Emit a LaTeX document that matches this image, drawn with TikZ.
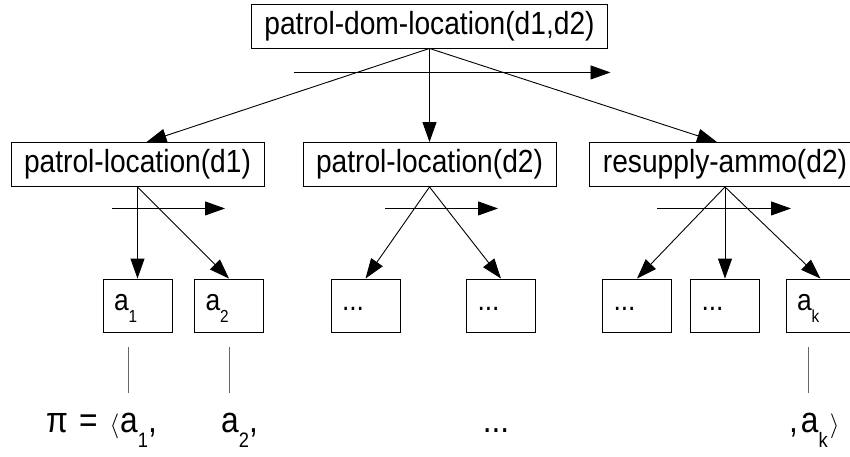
\documentclass[tikz,border=0pt]{standalone}
\usepackage{fontspec}
\setmainfont{Liberation Sans}[FakeStretch=0.88]
\usepackage{tikz}
\usetikzlibrary{calc}
\usetikzlibrary{arrows.meta}
\newcommand{\lowsub}[1]{\raisebox{-.42em}{\scalebox{.58}{#1}}}
\newcommand{\taskfont}{\fontsize{32pt}{36pt}\selectfont}
\newcommand{\leaffont}{\fontsize{30pt}{34pt}\selectfont}
\newcommand{\planfont}{\fontsize{36pt}{40pt}\selectfont}
\tikzset{
    task/.style={draw, rectangle, line width=0.9pt, font=\taskfont, minimum height=44pt, inner xsep=13pt},
    leaf/.style={draw, rectangle, line width=0.9pt, font=\leaffont, minimum height=53pt, text width=47pt,
        text height=18pt, text depth=9pt, inner xsep=11pt, align=left},
    decomp/.style={-{Triangle[length=20pt, width=14pt]}, line width=0.9pt},
    order/.style={decomp},
    trace/.style={line width=0.7pt, black!60},
    plan/.style={font=\planfont, anchor=base west, inner sep=0pt}
}

\begin{document}
\begin{tikzpicture}[x=1pt, y=-1pt]
    \useasboundingbox (0,0) rectangle (850,456);
    \clip (0,0) rectangle (850,456);

    % methods
    \node[task] (dom) at (429.5,26) {patrol-dom-location(d1,d2)};
    \node[task] (locA) at (137.5,164.5) {patrol-location(d1)};
    \node[task] (locB) at (429.5,164.5) {patrol-location(d2)};
    \node[task] (ammo) at (725,164.5) {resupply-ammo(d2)};

    % primitive actions
    \node[leaf] (actA1) at (137.5,305.5) {a\lowsub{1}};
    \node[leaf] (actA2) at (229,305.5) {a\lowsub{2}};
    \node[leaf] (actB1) at (365.5,305.5) {...};
    \node[leaf] (actB2) at (501,305.5) {...};
    \node[leaf] (actC1) at (637,305.5) {...};
    \node[leaf] (actC2) at (725,305.5) {...};
    \node[leaf] (actCk) at (820.5,305.5) {a\lowsub{k}};

    \draw[decomp] (dom.south) -- ([xshift=9pt]locA.north);
    \draw[decomp] (dom.south) -- (locB.north);
    \draw[decomp] (dom.south) -- ([xshift=-8pt]ammo.north);
    \draw[order] ($(dom.south)+(-136,24)$) -- ++(317,0);

    \draw[decomp] (locA.south) -- (actA1.north);
    \draw[decomp] (locA.south) -- (actA2.north);
    \draw[order] ($(locA.south)+(-25.5,21.5)$) -- ++(113,0);

    \draw[decomp] (locB.south) -- (actB1.north);
    \draw[decomp] (locB.south) -- (actB2.north);
    \draw[order] ($(locB.south)+(-44.5,21.5)$) -- ++(113,0);

    \draw[decomp] (ammo.south) -- (actC1.north);
    \draw[decomp] (ammo.south) -- (actC2.north);
    \draw[decomp] (ammo.south) -- (actCk.north);
    \draw[order] ($(ammo.south)+(-68,21.5)$) -- ++(134,0);

    % resulting plan
    \node[plan] (planA1) at (46,432) {π\hspace{11pt}=\hspace{12pt}\ensuremath{\langle}\hspace{1pt}a\lowsub{1},};
    \node[plan] (planA2) at (221,432) {a\lowsub{2},};
    \node[plan, anchor=base] (planDots) at (496,432) {...};
    \node[plan] (planAk) at (789,432) {,\hspace{3pt}a\lowsub{k}\hspace{2pt}\ensuremath{\rangle}};

    \draw[trace] ([xshift=-9.5pt, yshift=-15pt]actA1.south) -- ++(0,46);
    \draw[trace] ([yshift=-15pt]actA2.south) -- ++(0,46);
    \draw[trace] ([xshift=-12.5pt, yshift=-15pt]actCk.south) -- ++(0,46);
\end{tikzpicture}
\end{document}
